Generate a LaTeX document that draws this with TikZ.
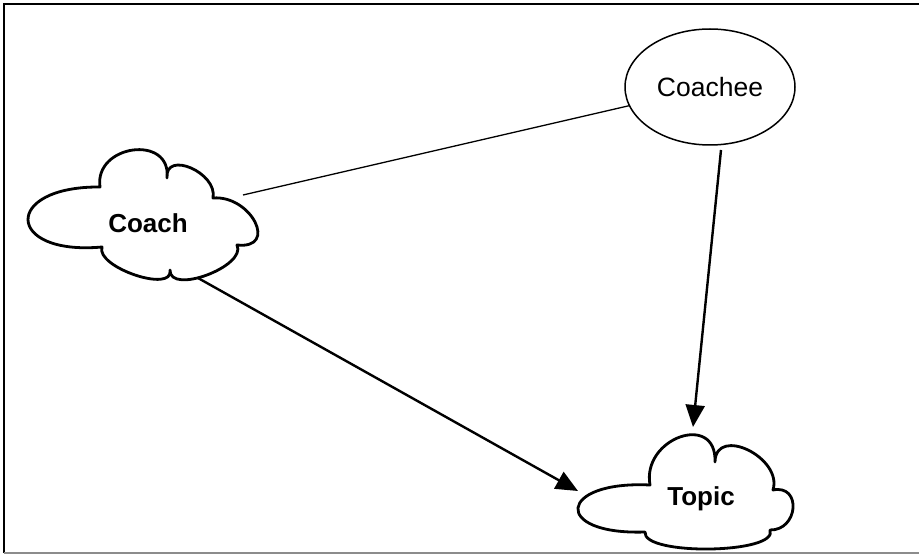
\documentclass[tikz,border=0pt]{standalone}
\usepackage{fontspec}
\setmainfont{Liberation Sans}
\usetikzlibrary{arrows.meta,shapes.geometric}
\tikzset{
  cloudline/.style={line width=2.8pt, line join=round},
  lbl/.style={font=\fontsize{26}{30}\selectfont, inner sep=0pt, anchor=base},
  thinline/.style={line width=1.3pt},
  arr/.style={line width=2.4pt, -{Triangle[length=22pt,width=19pt]}},
}
\begin{document}
\begin{tikzpicture}[x=1pt,y=-1pt]
\useasboundingbox (0,0) rectangle (919,556);
% frame
\draw[line width=2pt] (4,553) -- (4,4) -- (919,4);
\draw[line width=1.5pt, black!45] (4,553) -- (919,553);

% Coach cloud
\draw[cloudline] (100,187)
  .. controls (93.9,144.4) and (171.7,134) .. (167,178)
  .. controls (164.6,149.7) and (218,172.9) .. (213,198)
  .. controls (251.1,194.9) and (278.9,249.5) .. (237,245)
  .. controls (247.1,266.3) and (169.3,295.3) .. (170,270)
  .. controls (174.1,293.8) and (95.3,267.2) .. (102,247)
  .. controls (4.9,255.8) and (2.5,186.2) .. cycle;
\node[lbl, font=\fontsize{26}{30}\selectfont\bfseries] (coach) at (148,233) {Coach};

% Topic cloud
\draw[cloudline] (650,485)
  .. controls (641.5,438.1) and (716.9,411.5) .. (715,462)
  .. controls (715.7,425.1) and (782.9,457.5) .. (773,490)
  .. controls (801.9,484.1) and (798.5,530.5) .. (770,530)
  .. controls (779.6,553.9) and (642.1,556.1) .. (645,532)
  .. controls (551.9,535.1) and (557.7,480.5) .. cycle;
\node[lbl, font=\fontsize{26}{30}\selectfont\bfseries] (topic) at (701,505) {Topic};

% Coachee ellipse
\node[ellipse, draw, line width=1.5pt, minimum width=170pt, minimum height=116pt,
      inner sep=0pt, font=\fontsize{26.5}{30}\selectfont] (coachee) at (710,87) {Coachee};

% connector end points
\coordinate (coachR) at (243,195);
\coordinate (coachOut) at (198,278);
\coordinate (topicL) at (578,491);
\coordinate (coacheeB) at (721,150);
\coordinate (topicT) at (693,427);

\draw[thinline] (coachR) -- (coachee);
\draw[arr] (coachOut) -- (topicL);
\draw[arr] (coacheeB) -- (topicT);
\end{tikzpicture}
\end{document}
